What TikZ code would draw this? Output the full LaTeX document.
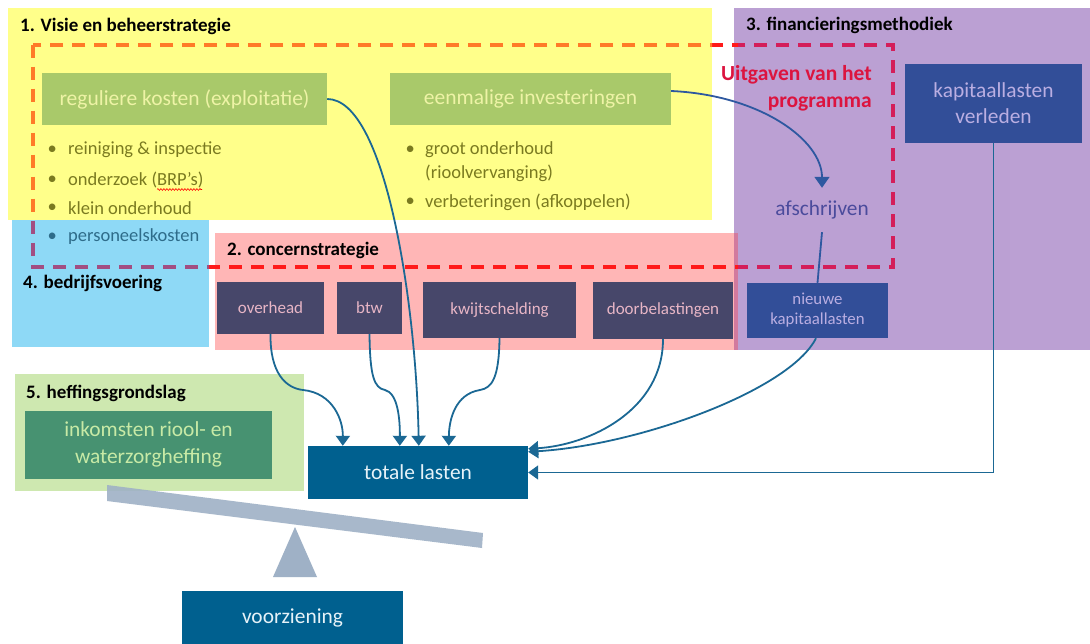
\documentclass[tikz,border=0pt]{standalone}
\usepackage{fontspec}
\setmainfont{Carlito}
\usetikzlibrary{arrows.meta,decorations.pathmorphing}
\definecolor{cyellow}{HTML}{FFFF8A}
\definecolor{cblue}{HTML}{8ED9F6}
\definecolor{cpink}{HTML}{FFB6B6}
\definecolor{cpurple}{HTML}{BBA0D3}
\definecolor{cpurpink}{HTML}{D27A9E}
\definecolor{clgreen}{HTML}{CEE8B0}
\definecolor{gboxfill}{HTML}{A9C96A}
\definecolor{gboxtext}{HTML}{EEF3A6}
\definecolor{olive}{HTML}{7A7A20}
\definecolor{tealtext}{HTML}{2E6C8A}
\definecolor{dboxfill}{HTML}{47476A}
\definecolor{dboxtext}{HTML}{E8B6C6}
\definecolor{bboxfill}{HTML}{324E98}
\definecolor{bboxtext}{HTML}{BAAEE2}
\definecolor{afstext}{HTML}{4B4B9C}
\definecolor{tboxfill}{HTML}{00608F}
\definecolor{tboxtext}{HTML}{E6F2F8}
\definecolor{iboxfill}{HTML}{479271}
\definecolor{iboxtext}{HTML}{C8EAA6}
\definecolor{conncol}{HTML}{1B6894}
\definecolor{afsarrow}{HTML}{2E58A0}
\definecolor{beamcol}{HTML}{9FB1C6}
\definecolor{uitred}{HTML}{DC143F}
\definecolor{dashred}{HTML}{FF1A1A}
\definecolor{dashorange}{HTML}{FF7A28}
\definecolor{dashmauve}{HTML}{A24E82}
\definecolor{dashcrimson}{HTML}{D41E5A}
\begin{document}
\begin{tikzpicture}[x=1pt,y=-1pt,
  region/.style={draw=none,anchor=north west,inner sep=0pt},
  title/.style={anchor=west,font=\bfseries\fontsize{19}{22}\selectfont,text=black,inner sep=0pt},
  bullet/.style={anchor=west,font=\fontsize{18.5}{22}\selectfont,text=olive,inner sep=0pt},
  gbox/.style={fill=gboxfill,text=gboxtext,font=\fontsize{21.5}{24}\selectfont,inner sep=0pt},
  dbox/.style={fill=dboxfill,text=dboxtext,font=\fontsize{17}{20}\selectfont,inner sep=0pt},
  bbox/.style={fill=bboxfill,text=bboxtext,inner sep=0pt,align=center},
  tbox/.style={fill=tboxfill,text=tboxtext,font=\fontsize{21.4}{24}\selectfont,inner sep=0pt},
  conn/.style={draw=conncol,line width=1.8pt,-{Triangle[width=14pt,length=10pt]}},
  frame/.style={line width=3.3pt,dash pattern=on 13pt off 9pt}
]
\useasboundingbox (0,0) rectangle (1090,644);
\fill[white] (0,0) rectangle (1090,644);
% regions
\node[region,fill=cyellow,minimum width=704pt,minimum height=212pt] (r1) at (8,8) {};
\node[region,fill=cblue,minimum width=197pt,minimum height=127pt] (r4) at (12,220) {};
\node[region,fill=cpurple,minimum width=356pt,minimum height=342pt] (r3) at (734,8) {};
\node[region,fill=cpink,minimum width=519pt,minimum height=117pt] (r2) at (215,233) {};
\node[region,fill=cpurpink,minimum width=4pt,minimum height=117pt] (r23) at (734,233) {};
\node[region,fill=clgreen,minimum width=289pt,minimum height=117pt] (r5) at (15,374) {};
% titles
\node[title] (t1) at (20,26) {1. Visie en beheerstrategie};
\node[title] (t3) at (746,25) {3. financieringsmethodiek};
\node[title] (t2) at (227,250) {2. concernstrategie};
\node[title] (t4) at (23,283) {4. bedrijfsvoering};
\node[title] (t5) at (26,393) {5. heffingsgrondslag};
% dashed programme frame (colour depends on the background it crosses)
\draw[frame,draw=dashred] (33,45) rectangle (893,267);
\begin{scope}
\clip (8,8) rectangle (712,220);
\draw[frame,draw=dashorange] (33,45) rectangle (893,267);
\end{scope}
\begin{scope}
\clip (12,220) rectangle (209,347);
\draw[frame,draw=dashmauve] (33,45) rectangle (893,267);
\end{scope}
\begin{scope}
\clip (738,8) rectangle (1090,350);
\draw[frame,draw=dashcrimson] (33,45) rectangle (893,267);
\end{scope}
\node[anchor=east,align=right,text=uitred,font=\bfseries\fontsize{21.5}{27}\selectfont,inner sep=0pt] (uit) at (872,88) {Uitgaven van het\\programma};
% green boxes
\node[gbox,minimum width=285pt,minimum height=52pt] (reg) at (184.5,99) {reguliere kosten (exploitatie)};
\node[gbox,minimum width=281pt,minimum height=52pt] (een) at (530.5,99) {eenmalige investeringen};
% bullet lists
\node[bullet] (b1d) at (47.5,150) {•};
\node[bullet] (b1) at (68,150) {reiniging \& inspectie};
\node[bullet] (b2d) at (47.5,180) {•};
\node[bullet] (b2) at (68,180) {onderzoek (BRP’s)};
\draw[red,line width=0.6pt,decorate,decoration={snake,amplitude=0.9pt,segment length=3pt}] (157,189.5) -- (202,189.5);
\node[bullet] (b3d) at (47.5,208) {•};
\node[bullet] (b3) at (68,208) {klein onderhoud};
\node[bullet,text=tealtext] (b4d) at (47.5,237) {•};
\node[bullet,text=tealtext] (b4) at (68,237) {personeelskosten};
\node[bullet] (c1d) at (405.5,150) {•};
\node[bullet] (c1) at (425,150) {groot onderhoud};
\node[bullet] (c1b) at (425,173) {(rioolvervanging)};
\node[bullet] (c2d) at (405.5,202) {•};
\node[bullet] (c2) at (425,202) {verbeteringen (afkoppelen)};
% concern boxes
\node[dbox,minimum width=107pt,minimum height=52pt] (ovh) at (270.5,308) {overhead};
\node[dbox,minimum width=65pt,minimum height=52pt] (btw) at (369.5,308) {btw};
\node[dbox,minimum width=153pt,minimum height=56pt] (kwt) at (499.5,310) {kwijtschelding};
\node[dbox,minimum width=140pt,minimum height=57pt] (dbl) at (663,310.5) {doorbelastingen};
% financing
\node[bbox,minimum width=177pt,minimum height=79pt,font=\fontsize{21.4}{26}\selectfont] (kapv) at (993.5,103.5) {kapitaallasten\\verleden};
\node[bbox,minimum width=141pt,minimum height=55pt,font=\fontsize{16.8}{20}\selectfont] (nkap) at (817.5,310.5) {nieuwe\\kapitaallasten};
\node[text=afstext,font=\fontsize{21.3}{24}\selectfont,inner sep=0pt,minimum height=44pt] (afs) at (822,210) {afschrijven};
% bottom
\node[tbox,minimum width=220pt,minimum height=53pt] (tot) at (418,472.5) {totale lasten};
\node[tbox,minimum width=221pt,minimum height=53pt] (vrz) at (292.5,617.5) {voorziening};
\node[fill=iboxfill,text=iboxtext,font=\fontsize{21.4}{27}\selectfont,align=center,inner sep=0pt,minimum width=247pt,minimum height=68pt] (ink) at (148.5,444.5) {inkomsten riool- en\\waterzorgheffing};
% balance
\fill[beamcol,opacity=0.9] (107,485) -- (483,533) -- (482,548) -- (107,501) -- cycle;
\fill[beamcol] (295,527) -- (317,577) -- (273,577) -- cycle;
% connectors
\draw[draw=afsarrow,line width=1.8pt,-{Triangle[width=15pt,length=11pt]}] ([yshift=8pt]een.east) .. controls (760,95) and (822,140) .. (afs.north);
\draw[draw=afsarrow,line width=1.8pt] (afs.south) -- (nkap.north);
\draw[conn] (reg.east) .. controls (385,99) and (416,300) .. ([xshift=111pt]tot.north west);
\draw[conn] (ovh.south) .. controls (270,372) and (285,388) .. (303,390) .. controls (333,393) and (343,420) .. ([xshift=35pt]tot.north west);
\draw[conn] (btw.south) .. controls (370,376) and (374,388) .. (385,390) .. controls (398,393) and (400,420) .. ([xshift=92pt]tot.north west);
\draw[conn] (kwt.south) .. controls (499,378) and (492,388) .. (480,390) .. controls (455,394) and (449,420) .. ([xshift=141pt]tot.north west);
\draw[conn] (dbl.south) .. controls (663,410) and (590,445) .. ([yshift=-3pt]tot.north east);
\draw[conn] ([xshift=-1.5pt]nkap.south) .. controls (790,390) and (640,445) .. ([yshift=-6pt]tot.north east);
\draw[conn] (kapv.south) |- (tot.east);
\end{tikzpicture}
\end{document}
